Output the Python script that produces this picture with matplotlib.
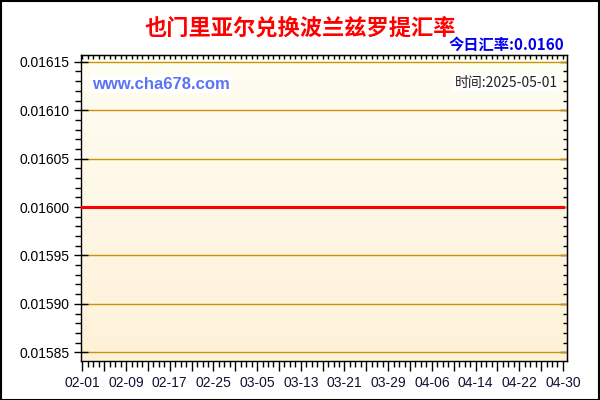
import numpy as np
import pandas as pd
import matplotlib
matplotlib.use("Agg")
import matplotlib.pyplot as plt
import matplotlib.dates as mdates
from matplotlib.ticker import MultipleLocator, FixedLocator, FuncFormatter

plt.rcParams['font.family'] = ['Liberation Sans', 'Noto Sans CJK SC', 'DejaVu Sans']

# data
title = "也门里亚尔兑换波兰兹罗提汇率"
today_rate = "今日汇率:0.0160"
update_time = "时间:2025-05-01"
dates = pd.date_range("2025-02-01", "2025-04-30", freq="D")
rates = [0.0160] * len(dates)
y_ticks = [0.01585, 0.01590, 0.01595, 0.01600, 0.01605, 0.01610, 0.01615]

fig = plt.figure(figsize=(6, 4), dpi=100)
ax = fig.add_axes([0.135, 0.0975, 0.81, 0.765])

x0 = mdates.date2num(dates[0]) - 0.25
x1 = mdates.date2num(dates[-1]) + 0.75
ylo, yhi = 0.015841, 0.016157
ax.set_xlim(x0, x1)
ax.set_ylim(ylo, yhi)

# gradient background
grad = np.linspace(0, 1, 256).reshape(-1, 1)
top = np.array([1.0, 0.996, 0.955])
bot = np.array([0.996, 0.945, 0.845])
img = top + (bot - top) * grad[:, :, None] * np.ones((1, 1, 3))
ax.imshow(img, extent=[x0, x1, ylo, yhi], aspect='auto', origin='upper', zorder=0)

for v in y_ticks:
    ax.axhline(v, color='#c8940a', lw=1, zorder=1)

ax.plot(dates, rates, color='#ff0000', lw=2.2, zorder=3)

# ticks
ax.yaxis.set_major_locator(FixedLocator(y_ticks))
ax.yaxis.set_minor_locator(MultipleLocator(0.00001))
ax.yaxis.set_major_formatter(FuncFormatter(lambda v, p: f"{v:.5f}"))
major_days = [mdates.date2num(d) for d in dates[::4]]
ax.xaxis.set_major_locator(FixedLocator(major_days))
ax.xaxis.set_minor_locator(FixedLocator([mdates.date2num(d) for d in dates]))
ax.xaxis.set_major_formatter(FuncFormatter(
    lambda v, p: mdates.num2date(v).strftime("%m-%d") if (round(v - major_days[0]) % 8 == 0) else ""))
ax.tick_params(axis='y', which='major', direction='inout', length=10, width=1, labelsize=10, pad=3)
ax.tick_params(axis='y', which='minor', direction='out', length=4, width=1)
ax.tick_params(axis='x', which='major', direction='out', length=7, width=1, labelsize=10, pad=4,
               labelcolor='#111133')
ax.tick_params(axis='x', which='minor', direction='out', length=4, width=1)

sx = ax.secondary_xaxis('top')
sx.xaxis.set_major_locator(FixedLocator([mdates.date2num(d) for d in dates]))
sx.tick_params(direction='in', length=3, width=1, labeltop=False)
sy = ax.secondary_yaxis('right')
sy.yaxis.set_major_locator(FixedLocator(y_ticks))
sy.yaxis.set_minor_locator(MultipleLocator(0.00001))
sy.tick_params(which='both', direction='in', length=3, width=1, labelright=False)
sy.tick_params(which='major', length=5)

for s in ax.spines.values():
    s.set_linewidth(1)

# texts
fig.text(0.5, 0.93, title, ha='center', va='center', color='#ff0000', fontsize=16,
         fontweight='bold', family=['Noto Sans CJK SC', 'DejaVu Sans'])
fig.text(0.941, 0.888, today_rate, ha='right', va='center', color='#0000ee', fontsize=11,
         fontweight='bold', family=['Noto Sans CJK SC', 'DejaVu Sans'])
ax.text(0.022, 0.905, "www.cha678.com", transform=ax.transAxes, ha='left', va='center',
        color='#5b73f5', fontsize=12, fontweight='bold', zorder=4,
        bbox=dict(facecolor='white', edgecolor='none', pad=1))
ax.text(0.981, 0.91, update_time, transform=ax.transAxes, ha='right', va='center',
        color='#222222', fontsize=10, zorder=4, family=['Noto Sans CJK SC', 'DejaVu Sans'],
        bbox=dict(facecolor='white', edgecolor='none', pad=1))

# outer border
fig.patches.append(plt.Rectangle((0.001, 0.001), 0.997, 0.997, transform=fig.transFigure,
                                 fill=False, edgecolor='black', lw=1.5))

fig.savefig("out.png", dpi=100)
